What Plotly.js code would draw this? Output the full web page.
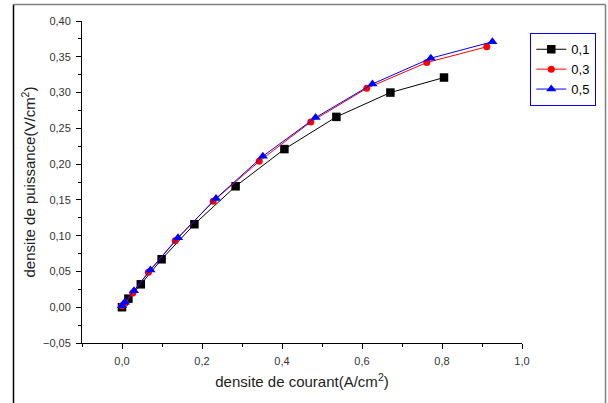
<!DOCTYPE html>
<html>
<head>
<meta charset="utf-8">
<script src="https://cdn.plot.ly/plotly-3.0.1.min.js"></script>
<style>html,body{margin:0;padding:0;background:#fff;}#chart{width:608px;height:403px;}</style>
</head>
<body>
<div id="chart"></div>
<script>
var seriesNames = ['0,1', '0,3', '0,5'];
var x01 = [0.000, 0.016, 0.047, 0.099, 0.181, 0.284, 0.406, 0.536, 0.671, 0.805];
var y01 = [0.000, 0.012, 0.032, 0.067, 0.116, 0.169, 0.221, 0.266, 0.300, 0.321];
var x03 = [0.000, 0.008, 0.027, 0.066, 0.133, 0.228, 0.343, 0.472, 0.612, 0.762, 0.912];
var y03 = [0.002, 0.006, 0.020, 0.049, 0.093, 0.148, 0.204, 0.259, 0.306, 0.342, 0.364];
var x05 = [0.000, 0.007, 0.030, 0.071, 0.140, 0.235, 0.352, 0.484, 0.626, 0.772, 0.926];
var y05 = [0.002, 0.007, 0.023, 0.052, 0.097, 0.152, 0.211, 0.265, 0.312, 0.348, 0.371];
var xTitle = 'densite de courant(A/cm<sup>2</sup>)';
var yTitle = 'densite de puissance(V/cm<sup>2</sup>)';

var traces = [
  {x: x01, y: y01, name: seriesNames[0], type: 'scatter', mode: 'lines+markers',
   line: {color: '#000000', width: 1}, marker: {symbol: 'square', size: 8.5, color: '#000000'}},
  {x: x03, y: y03, name: seriesNames[1], type: 'scatter', mode: 'lines+markers',
   line: {color: '#ff0000', width: 1}, marker: {symbol: 'circle', size: 7, color: '#ff0000'}},
  {x: x05, y: y05, name: seriesNames[2], type: 'scatter', mode: 'lines+markers',
   line: {color: '#0000ff', width: 1}, marker: {symbol: 'triangle-up', size: 9, color: '#0000ff'}}
];

// plot area: x 82..522, y 21..343
var L = 82, R = 522, T = 21, B = 343;
function px(v){ return (v - L) / (R - L); }
function py(v){ return (B - v) / (B - T); }

var layout = {
  width: 608, height: 403,
  margin: {l: L, r: 608 - R, t: T, b: 403 - B},
  paper_bgcolor: '#ffffff', plot_bgcolor: '#ffffff',
  separators: ', ',
  font: {family: 'Liberation Sans, Arial, sans-serif', color: '#000'},
  showlegend: true,
  legend: {x: px(530), y: py(33), xanchor: 'left', yanchor: 'top',
           bordercolor: '#0000ff', borderwidth: 1.3, bgcolor: '#ffffff',
           font: {size: 13, color: '#000'}, tracegroupgap: 0, itemwidth: 30},
  xaxis: {range: [-0.1, 1.0], tickvals: [0, 0.2, 0.4, 0.6, 0.8, 1.0], tickformat: '.1f',
          showline: true, linecolor: '#000', linewidth: 1, showgrid: false, zeroline: false,
          ticks: 'outside', ticklen: 5, tickcolor: '#000', tickwidth: 1, ticklabelstandoff: 3,
          minor: {tickvals: [-0.1, 0.1, 0.3, 0.5, 0.7, 0.9], ticks: 'outside', ticklen: 3, tickcolor: '#000', showgrid: false},
          tickfont: {size: 11, color: '#333'},
          title: {text: xTitle, font: {size: 15, color: '#222'}, standoff: 10}},
  yaxis: {range: [-0.05, 0.40], dtick: 0.05, tick0: 0, tickformat: '.2f',
          showline: true, linecolor: '#000', linewidth: 1, showgrid: false, zeroline: false,
          ticks: 'outside', ticklen: 5, tickcolor: '#000', tickwidth: 1, ticklabelstandoff: 3,
          minor: {dtick: 0.025, ticks: 'outside', ticklen: 3, tickcolor: '#000', showgrid: false},
          tickfont: {size: 11, color: '#333'},
          title: {text: yTitle, font: {size: 15, color: '#222'}, standoff: 3}},
  shapes: [
    {type: 'line', xref: 'paper', yref: 'paper', x0: px(13.5), x1: px(13.5), y0: py(4.5), y1: py(410), line: {color: '#000', width: 1.5}},
    {type: 'line', xref: 'paper', yref: 'paper', x0: px(13.5), x1: px(605.5), y0: py(4.5), y1: py(4.5), line: {color: '#808080', width: 1.5}},
    {type: 'line', xref: 'paper', yref: 'paper', x0: px(605.5), x1: px(605.5), y0: py(4.5), y1: py(410), line: {color: '#808080', width: 1.5}}
  ]
};

Plotly.newPlot('chart', traces, layout, {displayModeBar: false, staticPlot: true});
</script>
</body>
</html>
